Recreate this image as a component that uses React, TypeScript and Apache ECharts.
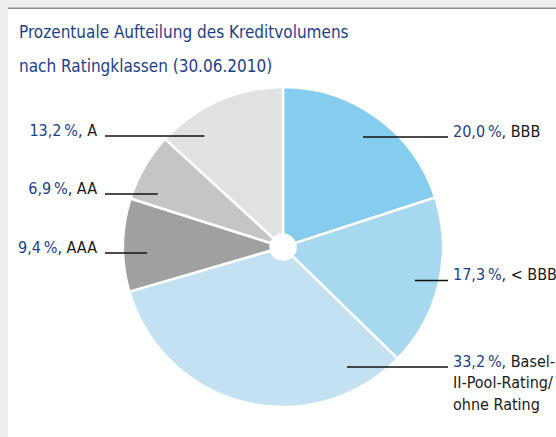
import React, { useEffect, useRef } from "react";
import * as echarts from "echarts";

const categories = ["BBB", "< BBB", "Basel-\nII-Pool-Rating/\nohne Rating", "AAA", "AA", "A"];
const shares = [20.0, 17.3, 33.2, 9.4, 6.9, 13.2];
const sliceColors = ["#84cdee", "#a6d8f0", "#c3e1f1", "#a0a0a0", "#c4c5c5", "#e1e1e1"];
const labelSides = ["right", "right", "right", "left", "left", "left"];
const labelLineYs = [137, 280.5, 367, 253, 194, 136];

const W = 556;
const H = 437;
const CX = 283;
const CY = 247;
const R = 160;
const R_HOLE = 12.5;
const R_LINE = 136;
const FONT = '"Liberation Sans Narrow", "DejaVu Sans Condensed", "Arial Narrow", sans-serif';
const BLUE = "#1d3f8a";
const FS = 16;
const LH = 21.5;

const fmt = (v: number) => v.toFixed(1).replace(".", ",");

export default function App() {
  const ref = useRef<HTMLDivElement>(null);
  useEffect(() => {
    if (!ref.current) return;
    const chart = echarts.init(ref.current, null, { renderer: "svg" });
    const baseData = categories.map((name, i) => ({
      name,
      value: shares[i],
      itemStyle: { color: sliceColors[i] },
    }));
    const labelData = categories.map((name, i) => ({
      name,
      value: shares[i],
    }));
    chart.setOption({
      animation: false,
      backgroundColor: "#ffffff",
      graphic: [
        { type: "rect", shape: { x: 0, y: 0, width: W, height: 8 }, style: { fill: "#eeeeee" }, silent: true },
        { type: "rect", shape: { x: 0, y: 0, width: 8, height: H }, style: { fill: "#eeeeee" }, silent: true },
        { type: "rect", shape: { x: 8, y: 7.5, width: W - 8, height: 1.5 }, style: { fill: "#8c8c8c" }, silent: true },
      ],
      title: {
        text: "Prozentuale Aufteilung des Kreditvolumens\nnach Ratingklassen (30.06.2010)",
        left: 19,
        top: 15,
        padding: 0,
        textStyle: {
          color: BLUE,
          fontFamily: FONT,
          fontSize: 17,
          fontWeight: "normal",
          lineHeight: 34,
        },
      },
      series: [
        {
          type: "pie",
          center: [CX, CY],
          radius: [R_HOLE, R],
          startAngle: 90,
          clockwise: true,
          silent: true,
          itemStyle: { borderColor: "#ffffff", borderWidth: 2.5 },
          emphasis: { disabled: true },
          label: { show: false },
          labelLine: { show: false },
          data: baseData,
        },
        {
          type: "pie",
          center: [CX, CY],
          radius: [R_HOLE, R],
          startAngle: 90,
          clockwise: true,
          silent: true,
          z: 5,
          avoidLabelOverlap: false,
          itemStyle: { color: "rgba(0,0,0,0)", borderWidth: 0 },
          emphasis: { disabled: true },
          data: labelData,
          label: {
            show: true,
            position: "outside",
            color: "#1a1a1a",
            fontFamily: FONT,
            fontSize: FS,
            lineHeight: LH,
            formatter: (p: any) => `{v|${fmt(p.value)}\u2009%}, ` + String(p.name),
            rich: {
              v: { color: BLUE, fontFamily: FONT, fontSize: FS, lineHeight: LH },
            },
          },
          labelLine: {
            show: true,
            showAbove: true,
            lineStyle: { color: "#111111", width: 1.3, opacity: 1 },
          },
          labelLayout: (params: any) => {
            const i = params.dataIndex;
            const ly = labelLineYs[i];
            const right = labelSides[i] === "right";
            const dy = ly - CY;
            const dx = Math.sqrt(Math.max(0, R_LINE * R_LINE - dy * dy)) * (right ? 1 : -1);
            const innerX = CX + dx;
            const outerX = right ? 448 : 105;
            return {
              x: right ? 453 : 97,
              y: ly - 6 - LH / 2,
              align: right ? "left" : "right",
              verticalAlign: "top",
              labelLinePoints: [
                [innerX, ly],
                [(innerX + outerX) / 2, ly],
                [outerX, ly],
              ],
            };
          },
        },
      ],
    });
    return () => chart.dispose();
  }, []);
  return (
    <div
      ref={ref}
      style={{ position: "fixed", left: 0, top: 0, width: W, height: H }}
    />
  );
}
